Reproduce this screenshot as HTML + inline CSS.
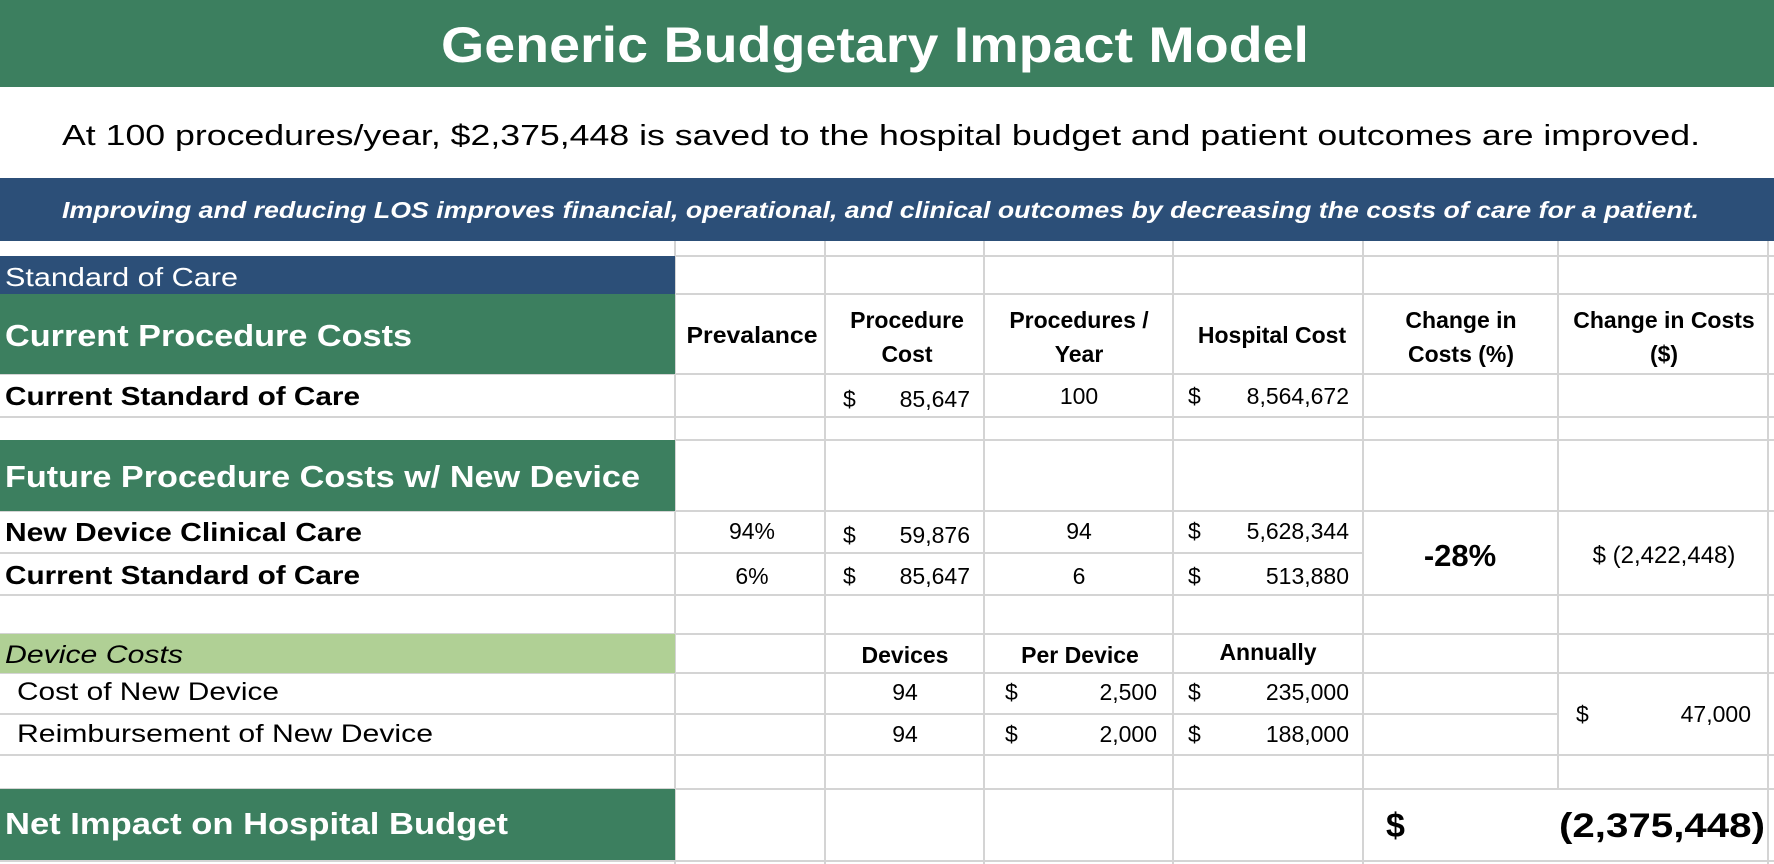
<!DOCTYPE html>
<html><head><meta charset="utf-8"><style>
html,body{margin:0;padding:0;background:#fff;}
svg{display:block;font-family:"Liberation Sans",Arial,sans-serif;}
</style></head><body>
<svg width="1774" height="864" viewBox="0 0 1774 864" xmlns="http://www.w3.org/2000/svg">
<g stroke="#d4d4d4" stroke-width="2">
  <line x1="675" y1="241" x2="675" y2="864"/>
  <line x1="825" y1="241" x2="825" y2="864"/>
  <line x1="984" y1="241" x2="984" y2="864"/>
  <line x1="1173" y1="241" x2="1173" y2="864"/>
  <line x1="1363" y1="241" x2="1363" y2="864"/>
  <line x1="1558" y1="241" x2="1558" y2="789"/>
  <line x1="1768" y1="241" x2="1768" y2="864"/>
  <line x1="675" y1="256" x2="1774" y2="256"/>
  <line x1="675" y1="294" x2="1774" y2="294"/>
  <line x1="0" y1="374" x2="1774" y2="374"/>
  <line x1="0" y1="417" x2="1774" y2="417"/>
  <line x1="675" y1="440" x2="1774" y2="440"/>
  <line x1="0" y1="511" x2="1774" y2="511"/>
  <line x1="0" y1="553" x2="1363" y2="553"/>
  <line x1="0" y1="595" x2="1774" y2="595"/>
  <line x1="0" y1="634" x2="1774" y2="634"/>
  <line x1="0" y1="673" x2="1774" y2="673"/>
  <line x1="0" y1="714" x2="1558" y2="714"/>
  <line x1="0" y1="755" x2="1774" y2="755"/>
  <line x1="0" y1="789" x2="1774" y2="789"/>
  <line x1="0" y1="861" x2="1774" y2="861"/>
</g>
<rect x="0" y="0" width="1774" height="87" fill="#3c7f5f"/>
<text x="875" y="62" text-anchor="middle" font-size="50" font-weight="bold" fill="#fff" textLength="868" lengthAdjust="spacingAndGlyphs">Generic Budgetary Impact Model</text>
<text x="62" y="145" font-size="29" fill="#000" textLength="1638" lengthAdjust="spacingAndGlyphs">At 100 procedures/year, $2,375,448 is saved to the hospital budget and patient outcomes are improved.</text>
<rect x="0" y="178" width="1774" height="63" fill="#2c4f78"/>
<text x="62" y="218" font-size="23" font-weight="bold" font-style="italic" fill="#fff" textLength="1637" lengthAdjust="spacingAndGlyphs">Improving and reducing LOS improves financial, operational, and clinical outcomes by decreasing the costs of care for a patient.</text>

<rect x="0" y="256" width="675" height="38" fill="#2c4f78"/>
<text x="5" y="286" font-size="26" fill="#fff" textLength="233" lengthAdjust="spacingAndGlyphs">Standard of Care</text>
<rect x="0" y="294" width="675" height="80" fill="#3c7f5f"/>
<text x="5" y="346" font-size="31" font-weight="bold" fill="#fff" textLength="407" lengthAdjust="spacingAndGlyphs">Current Procedure Costs</text>

<g font-size="23" font-weight="bold" text-anchor="middle" fill="#000">
  <text x="752" y="343" textLength="131" lengthAdjust="spacingAndGlyphs">Prevalance</text>
  <text x="907" y="328">Procedure</text>
  <text x="907" y="362">Cost</text>
  <text x="1079" y="328">Procedures /</text>
  <text x="1079" y="362">Year</text>
  <text x="1272" y="343">Hospital Cost</text>
  <text x="1461" y="328">Change in</text>
  <text x="1461" y="362">Costs (%)</text>
  <text x="1664" y="328">Change in Costs</text>
  <text x="1664" y="362">($)</text>
</g>

<text x="5" y="405" font-size="26" font-weight="bold" textLength="355" lengthAdjust="spacingAndGlyphs">Current Standard of Care</text>
<g font-size="23" fill="#000">
  <text x="843" y="407">$</text><text x="970" y="407" text-anchor="end">85,647</text>
  <text x="1079" y="404" text-anchor="middle">100</text>
  <text x="1188" y="404">$</text><text x="1349" y="404" text-anchor="end">8,564,672</text>
</g>

<rect x="0" y="440" width="675" height="71" fill="#3c7f5f"/>
<text x="5" y="487" font-size="31" font-weight="bold" fill="#fff" textLength="635" lengthAdjust="spacingAndGlyphs">Future Procedure Costs w/ New Device</text>

<text x="5" y="541" font-size="26" font-weight="bold" textLength="357" lengthAdjust="spacingAndGlyphs">New Device Clinical Care</text>
<text x="5" y="584" font-size="26" font-weight="bold" textLength="355" lengthAdjust="spacingAndGlyphs">Current Standard of Care</text>
<g font-size="23" fill="#000">
  <text x="752" y="539" text-anchor="middle">94%</text>
  <text x="843" y="543">$</text><text x="970" y="543" text-anchor="end">59,876</text>
  <text x="1079" y="539" text-anchor="middle">94</text>
  <text x="1188" y="539">$</text><text x="1349" y="539" text-anchor="end">5,628,344</text>
  <text x="752" y="584" text-anchor="middle">6%</text>
  <text x="843" y="584">$</text><text x="970" y="584" text-anchor="end">85,647</text>
  <text x="1079" y="584" text-anchor="middle">6</text>
  <text x="1188" y="584">$</text><text x="1349" y="584" text-anchor="end">513,880</text>
</g>
<text x="1460" y="566" font-size="31" font-weight="bold" text-anchor="middle">-28%</text>
<text x="1664" y="563" font-size="24" text-anchor="middle">$ (2,422,448)</text>

<rect x="0" y="634" width="675" height="39" fill="#b0d095"/>
<text x="5" y="663" font-size="25" font-style="italic" textLength="178" lengthAdjust="spacingAndGlyphs">Device Costs</text>
<g font-size="23" font-weight="bold" text-anchor="middle">
  <text x="905" y="663">Devices</text>
  <text x="1080" y="663">Per Device</text>
  <text x="1268" y="660">Annually</text>
</g>
<text x="17" y="700" font-size="25" textLength="262" lengthAdjust="spacingAndGlyphs">Cost of New Device</text>
<text x="17" y="742" font-size="25" textLength="416" lengthAdjust="spacingAndGlyphs">Reimbursement of New Device</text>
<g font-size="23">
  <text x="905" y="700" text-anchor="middle">94</text>
  <text x="1005" y="700">$</text><text x="1157" y="700" text-anchor="end">2,500</text>
  <text x="1188" y="700">$</text><text x="1349" y="700" text-anchor="end">235,000</text>
  <text x="905" y="742" text-anchor="middle">94</text>
  <text x="1005" y="742">$</text><text x="1157" y="742" text-anchor="end">2,000</text>
  <text x="1188" y="742">$</text><text x="1349" y="742" text-anchor="end">188,000</text>
  <text x="1576" y="722">$</text><text x="1751" y="722" text-anchor="end">47,000</text>
</g>

<rect x="0" y="789" width="675" height="71" fill="#3c7f5f"/>
<text x="5" y="834" font-size="31" font-weight="bold" fill="#fff" textLength="503" lengthAdjust="spacingAndGlyphs">Net Impact on Hospital Budget</text>
<text x="1386" y="837" font-size="34" font-weight="bold">$</text>
<text x="1765" y="837" font-size="34" font-weight="bold" text-anchor="end" textLength="206" lengthAdjust="spacingAndGlyphs">(2,375,448)</text>
</svg>
</body></html>
